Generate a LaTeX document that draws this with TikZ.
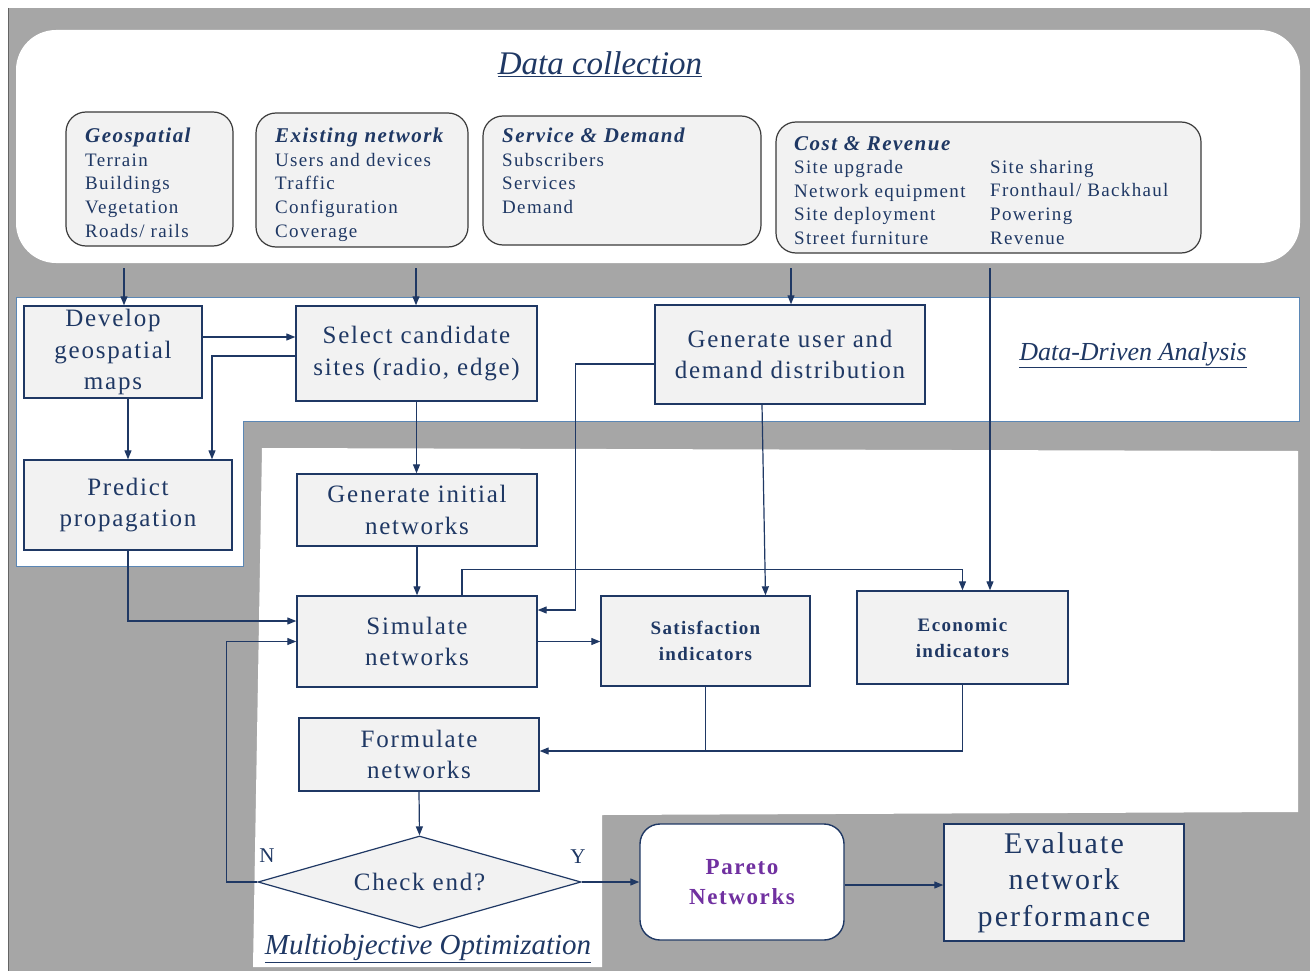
\documentclass[tikz,border=0pt]{standalone}
\usepackage{fontspec}
\setmainfont{Liberation Serif}
\newfontfamily\lsfont[LetterSpace=7]{Liberation Serif}
\usetikzlibrary{shapes.geometric,arrows.meta}
\definecolor{navy}{HTML}{1F3864}
\definecolor{bggray}{HTML}{A6A6A6}
\definecolor{boxfill}{HTML}{F2F2F2}
\definecolor{ddaline}{HTML}{5B87B5}
\definecolor{purp}{HTML}{7030A0}
\definecolor{dcline}{HTML}{3B3B3B}
\newcommand\dct[1]{{\bfseries\itshape\fontsize{21}{23.6}\selectfont #1}}
\begin{document}
\begin{tikzpicture}[x=1pt,y=-1pt,
  procbox/.style={draw=navy, line width=1.4pt, fill=boxfill, inner sep=0pt, align=center, text=navy, font=\lsfont\fontsize{25}{31.5}\selectfont},
  indbox/.style={procbox, font=\lsfont\bfseries\fontsize{19}{26}\selectfont},
  dcbox/.style={draw=dcline, line width=1.2pt, fill=boxfill, rounded corners=20pt, inner sep=0pt},
  dctext/.style={inner sep=0pt, align=left, anchor=north west, text=navy, font=\lsfont\fontsize{19}{23.6}\selectfont},
  region/.style={text=navy, inner sep=0pt},
  arr/.style={draw=navy, line width=1.2pt, -{Triangle[length=9pt,width=7pt]}},
  plainline/.style={draw=navy, line width=1.2pt}
]
\useasboundingbox (0,0) rectangle (1315,971);
% backgrounds
\fill[bggray] (8,8) rectangle (1310,971);
\draw[bggray!60!black, line width=1pt] (8.5,8) -- (8.5,971);
\node[fill=white, rounded corners=40pt, minimum width=1284pt, minimum height=233pt, inner sep=0pt] (dc) at (658,146.5) {};
\draw[draw=ddaline, line width=1pt, fill=white] (16,297) -- (1299,297) -- (1299,421) -- (243,421) -- (243,566) -- (16,566) -- cycle;
\fill[white] (262,448) -- (1298,451) -- (1298,812) -- (602,815) -- (602,967) -- (253,967) -- cycle;

% region titles
\node[region, font=\itshape\fontsize{33}{36}\selectfont] (dctitle) at (600,64) {\underline{Data collection}};
\node[region, font=\itshape\fontsize{26}{28}\selectfont] (ddatitle) at (1133,355) {\underline{Data-Driven Analysis}};
\node[region, font=\itshape\fontsize{29}{30}\selectfont] (mootitle) at (428,949) {\underline{Multiobjective Optimization}};

% data collection boxes
\node[dcbox, minimum width=167pt, minimum height=134pt] (geo) at (149.5,179) {};
\node[dcbox, minimum width=212pt, minimum height=134pt] (exist) at (362,180) {};
\node[dcbox, minimum width=278pt, minimum height=129pt] (serv) at (622,180.5) {};
\node[dcbox, minimum width=425pt, minimum height=131pt] (cost) at (988.5,187.5) {};
\node[dctext] (geot) at (85,128) {\dct{Geospatial}\\Terrain\\Buildings\\Vegetation\\Roads/ rails};
\node[dctext] (existt) at (275,128) {\dct{Existing network}\\Users and devices\\Traffic\\Configuration\\Coverage};
\node[dctext] (servt) at (502,128) {\dct{Service \& Demand}\\Subscribers\\Services\\Demand};
\node[dctext] (costt) at (794,136) {\dct{Cost \& Revenue}\\Site upgrade\\Network equipment\\Site deployment\\Street furniture};
\node[dctext] (costt2) at (990,160) {Site sharing\\Fronthaul/ Backhaul\\Powering\\Revenue};

% process boxes
\node[procbox, minimum width=178pt, minimum height=92pt] (dev) at (113,352) {Develop\\geospatial\\maps};
\node[procbox, minimum width=241pt, minimum height=95pt] (sel) at (416.5,353.5) {Select candidate\\sites (radio, edge)};
\node[procbox, minimum width=270pt, minimum height=99pt] (gen) at (790,354.5) {Generate user and\\demand distribution};
\node[procbox, minimum width=208pt, minimum height=90pt] (pred) at (128,505) {Predict\\propagation};
\node[procbox, minimum width=240pt, minimum height=72pt] (init) at (417,510) {Generate initial\\networks};
\node[procbox, minimum width=240pt, minimum height=91pt] (sim) at (417,641.5) {Simulate\\networks};
\node[indbox, minimum width=209pt, minimum height=90pt] (sat) at (705.5,641) {Satisfaction\\indicators};
\node[indbox, minimum width=211pt, minimum height=93pt] (eco) at (962.5,637.5) {Economic\\indicators};
\node[procbox, minimum width=240pt, minimum height=73pt] (form) at (419,754.5) {Formulate\\networks};
\node[procbox, shape=diamond, aspect=3.51, minimum width=323pt, minimum height=92pt, line width=1.2pt] (check) at (419.5,882) {Check end?};
\node[procbox, fill=white, rounded corners=20pt, minimum width=204pt, minimum height=116pt, text=purp, font=\lsfont\bfseries\fontsize{23}{30}\selectfont] (pareto) at (742,882) {Pareto\\Networks};
\node[procbox, minimum width=240pt, minimum height=117pt, font=\lsfont\fontsize{30}{36.5}\selectfont] (eval) at (1064,882.5) {Evaluate\\network\\performance};

\node[region, font=\fontsize{21}{24}\selectfont] (nlab) at (267,856) {N};
\node[region, font=\fontsize{21}{24}\selectfont] (ylab) at (578,857) {Y};

% connectors
\coordinate (c1) at (124,268);
\coordinate (c2) at (416,268);
\coordinate (c3) at (791,268);
\coordinate (c4) at (990,268);
\draw[arr] (c1) -- (c1 |- dev.north);
\draw[arr] (c2) -- (c2 |- sel.north);
\draw[arr] (c3) -- (c3 |- gen.north);
\draw[arr] (c4) -- (c4 |- eco.north);
\draw[arr] ([yshift=15pt]dev.east) -- ([yshift=15pt]dev.east -| sel.west);
\draw[arr] ([yshift=-2.5pt]sel.west) -| ([xshift=84pt]pred.north);
\draw[arr] ([xshift=15pt]dev.south) -- (pred.north);
\draw[arr] (sel.south) -- (sel.south |- init.north);
\draw[arr] (init.south) -- (sim.north);
\draw[arr] (pred.south) |- ([yshift=20.5pt]sim.west);
\draw[arr] (check.west) -- ++(-31,0) |- (sim.west);
\draw[arr] ([yshift=-9.5pt]gen.west) -- ++(-79,0) |- ([yshift=31.5pt]sim.east);
\draw[arr] ([xshift=-28pt]gen.south) -- ([xshift=60pt]sat.north);
\draw[arr] ([xshift=45pt]sim.north) -- ++(0,-26) -| (eco.north);
\draw[arr] (sim.east) -- (sim.east -| sat.west);
\draw[plainline] (eco.south) |- ([yshift=3.5pt]sat.south |- form.east);
\draw[arr] (sat.south) |- ([yshift=3.5pt]form.east);
\draw[arr] (form.south) -- (check.north);
\draw[arr] (check.east) -- (pareto.west);
\draw[arr] ([yshift=-3pt]pareto.east) -- ([yshift=-3pt]pareto.east -| eval.west);
\end{tikzpicture}
\end{document}
